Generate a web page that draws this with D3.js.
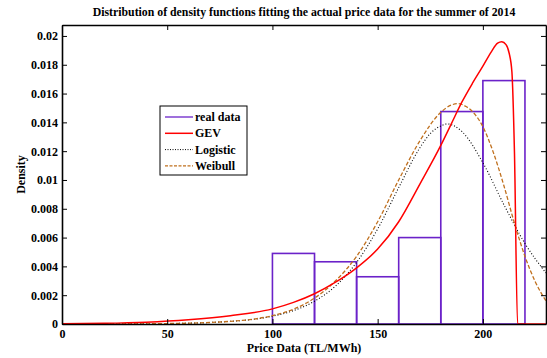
<!DOCTYPE html>
<html>
<head>
<meta charset="utf-8">
<script src="https://cdn.jsdelivr.net/npm/d3@7"></script>
<style>
  body { margin: 0; background: #fff; }
  text { font-family: "Liberation Serif", "Times New Roman", serif; font-weight: bold; }
</style>
</head>
<body>
<div id="area1"></div>
<script>
// histogram of real data
var binEdges = [100, 120, 140, 160, 180, 200, 220];
var binDensity = [0.0049, 0.00432, 0.00328, 0.0060, 0.01475, 0.0169];

// fitted curves
var gevX = [0, 20, 40, 60, 80, 100, 110, 120, 130, 140, 150, 160, 170, 180, 185, 190, 195, 200, 204, 207, 209, 211, 212.5, 213.8, 215, 216.5, 230];
var gevY = [0.00002, 0.00005, 0.00013, 0.0003, 0.00058, 0.00105, 0.0015, 0.0021, 0.0029, 0.0039, 0.0052, 0.0071, 0.0097, 0.0124, 0.0139, 0.0154, 0.0167, 0.0179, 0.0189, 0.0195, 0.0196, 0.0194, 0.0188, 0.0175, 0.0120, 0, 0];

var logX = [0, 25, 50, 75, 100, 110, 120, 130, 140, 150, 160, 170, 175, 180, 183, 190, 200, 210, 220, 230];
var logY = [0, 0.00001, 0.00003, 0.00014, 0.00054, 0.00093, 0.00158, 0.00264, 0.00428, 0.0066, 0.00947, 0.01222, 0.01322, 0.01375, 0.01389, 0.01337, 0.0112, 0.00828, 0.00559, 0.00354];

var weiX = [0, 25, 50, 75, 100, 110, 120, 130, 140, 150, 160, 170, 180, 185, 188, 192, 196, 200, 205, 210, 215, 220, 225, 230];
var weiY = [0, 0.000001, 0.00003, 0.00014, 0.00058, 0.00103, 0.0018, 0.0030, 0.0047, 0.0071, 0.0100, 0.0127, 0.0147, 0.0152, 0.0153, 0.0151, 0.0146, 0.0137, 0.0119, 0.0096, 0.0070, 0.0047, 0.0029, 0.0016];

var xTicks = [0, 50, 100, 150, 200];
var yTicks = [0, 0.002, 0.004, 0.006, 0.008, 0.01, 0.012, 0.014, 0.016, 0.018, 0.02];
var legendNames = ["real data", "GEV", "Logistic", "Weibull"];

// set the dimensions and margins of the graph
var margin = {top: 25, right: 1, bottom: 34, left: 62},
    width = 547 - margin.left - margin.right,
    height = 358 - margin.top - margin.bottom;

var x = d3.scaleLinear().domain([0, 230]).range([0, width]);
var y = d3.scaleLinear().domain([0, 0.02076]).range([height, 0]);

var svg = d3.select("#area1").append("svg")
    .attr("width", 547)
    .attr("height", 358);

// title
svg.append("text")
    .attr("x", margin.left + width / 2)
    .attr("y", 16)
    .attr("text-anchor", "middle")
    .style("font-size", "11.8px")
    .text("Distribution of density functions fitting the actual price data for the summer of 2014");

var g = svg.append("g")
    .attr("transform", "translate(" + margin.left + "," + margin.top + ")");

g.append("clipPath").attr("id", "clip")
  .append("rect").attr("width", width).attr("height", height);

var plot = g.append("g").attr("clip-path", "url(#clip)");

// bars
var bins = binDensity.map(function(d, i) { return {x0: binEdges[i], x1: binEdges[i + 1], v: d}; });
plot.selectAll(".bar")
    .data(bins)
  .enter().append("rect")
    .attr("class", "bar")
    .attr("x", function(d) { return x(d.x0); })
    .attr("width", function(d) { return x(d.x1) - x(d.x0); })
    .attr("y", function(d) { return y(d.v); })
    .attr("height", function(d) { return height - y(d.v); })
    .style("fill", "none")
    .style("stroke", "#6b22c9")
    .style("stroke-width", 1.6);

function curve(xs, ys) {
  return d3.line()
    .x(function(d, i) { return x(xs[i]); })
    .y(function(d) { return y(d); })
    .curve(d3.curveMonotoneX)(ys);
}

plot.append("path").attr("d", curve(logX, logY))
    .style("fill", "none").style("stroke", "#000").style("stroke-width", 1.1)
    .style("stroke-dasharray", "1,2");
plot.append("path").attr("d", curve(weiX, weiY))
    .style("fill", "none").style("stroke", "#c0701e").style("stroke-width", 1.3)
    .style("stroke-dasharray", "4,2");
plot.append("path").attr("d", curve(gevX, gevY))
    .style("fill", "none").style("stroke", "#ff0000").style("stroke-width", 1.5);

// axes with inward ticks
function styleAxis(sel) {
  sel.selectAll("path").style("stroke", "#000").style("stroke-width", 1.6);
  sel.selectAll("line").style("stroke", "#000").style("stroke-width", 1);
  sel.selectAll("text").style("font-size", "12px").style("font-family", "Liberation Serif").style("font-weight", "bold").style("fill", "#000");
}

g.append("g")
    .attr("transform", "translate(0," + height + ")")
    .call(d3.axisBottom(x).tickValues(xTicks).tickSize(-5).tickSizeOuter(0).tickPadding(5).tickFormat(d3.format("d")))
    .call(styleAxis);
g.append("g")
    .call(d3.axisTop(x).tickValues(xTicks).tickSize(-5).tickSizeOuter(0).tickFormat(""))
    .call(styleAxis);
g.append("g")
    .call(d3.axisLeft(y).tickValues(yTicks).tickSize(-5).tickSizeOuter(0).tickPadding(4).tickFormat(function(d) { return d3.format("")(+d.toFixed(3)); }))
    .call(styleAxis);
g.append("g")
    .attr("transform", "translate(" + width + ",0)")
    .call(d3.axisRight(y).tickValues(yTicks).tickSize(-5).tickSizeOuter(0).tickFormat(""))
    .call(styleAxis);

// axis labels
svg.append("text")
    .attr("x", margin.left + width / 2)
    .attr("y", 352)
    .attr("text-anchor", "middle")
    .style("font-size", "12px")
    .text("Price Data (TL/MWh)");
svg.append("text")
    .attr("transform", "translate(25," + (margin.top + height / 2) + ") rotate(-90)")
    .attr("text-anchor", "middle")
    .style("font-size", "12px")
    .text("Density");

// legend
var legend = svg.append("g").attr("transform", "translate(160,106)");
legend.append("rect")
    .attr("width", 87).attr("height", 69)
    .style("fill", "#fff").style("stroke", "#000").style("stroke-width", 1);
var legStyles = [
  {c: "#6b22c9", dash: null, w: 1.3},
  {c: "#ff0000", dash: null, w: 1.5},
  {c: "#000", dash: "1,1.5", w: 1},
  {c: "#c0701e", dash: "3,1.5", w: 1.3}
];
legendNames.forEach(function(name, i) {
  var ly = 11 + i * 16.3;
  legend.append("line")
    .attr("x1", 5).attr("x2", 33).attr("y1", ly).attr("y2", ly)
    .style("stroke", legStyles[i].c)
    .style("stroke-width", legStyles[i].w)
    .style("stroke-dasharray", legStyles[i].dash);
  legend.append("text")
    .attr("x", 35).attr("y", ly + 4)
    .style("font-size", "12px")
    .text(name);
});
</script>
</body>
</html>
